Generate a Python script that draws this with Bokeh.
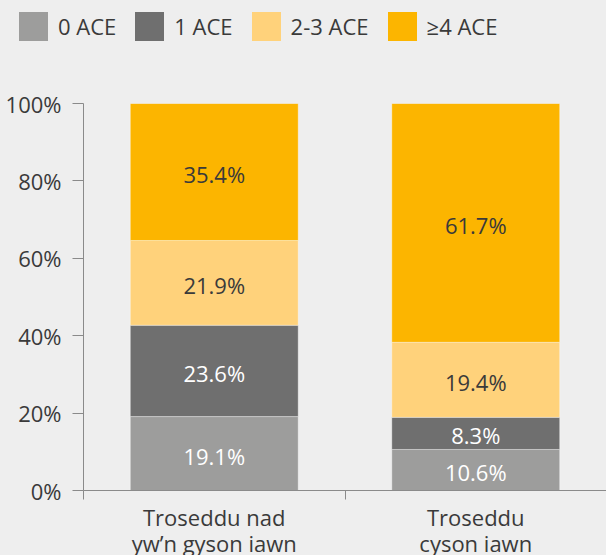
from bokeh.plotting import figure
from bokeh.layouts import column
from bokeh.models import (ColumnDataSource, Range1d, FixedTicker, LinearAxis, Div)
from bokeh.core.properties import value
from bokeh.embed import file_html
from bokeh.resources import INLINE

# ---- data ----
categories = ["Troseddu nad\nyw\u2019n gyson iawn", "Troseddu\ncyson iawn"]
series_names = ["0 ACE", "1 ACE", "2-3 ACE", "\u22654 ACE"]
ace_0 = [19.1, 10.6]
ace_1 = [23.6, 8.3]
ace_2_3 = [21.9, 19.4]
ace_4plus = [35.4, 61.7]
y_ticks = [0, 20, 40, 60, 80, 100]

colors = ["#9d9d9c", "#6f6f6f", "#ffd27b", "#fcb500"]
label_colors = ["#ffffff", "#ffffff", "#3a3a3a", "#3a3a3a"]
FONT = "Open Sans"
BG = "#eeeeee"
axis_color = "#8a8a8a"
text_color = "#3a3a3a"

xs = [i + 0.5 for i in range(len(categories))]
keys = ["s0", "s1", "s2", "s3"]
series = [ace_0, ace_1, ace_2_3, ace_4plus]
src = ColumnDataSource(dict(x=xs, **{k: v for k, v in zip(keys, series)}))

# ---- legend strip (top) ----
LEG_H = 80
items_html = "".join(
    f'<span style="display:inline-block;width:29px;height:29px;background:{c};margin-right:10px;flex:none"></span>'
    f'<span style="margin-right:19px;white-space:nowrap">{n}</span>'
    for c, n in zip(colors, series_names))
legend_div = Div(
    text=(f'<div style="display:flex;align-items:center;height:29px;margin-top:12px;padding-left:19px;'
          f"font-family:'{FONT}';font-size:22px;color:{text_color};line-height:29px\">{items_html}</div>"),
    width=606, height=LEG_H, margin=0,
    styles={"background-color": BG})

# ---- main chart ----
p = figure(width=606, height=580 - LEG_H, output_backend="svg", toolbar_location=None,
           x_range=Range1d(0, len(categories)), y_range=Range1d(0, 100),
           min_border_left=83, min_border_right=0, min_border_top=103 - LEG_H, min_border_bottom=90,
           background_fill_color=BG, border_fill_color=BG, outline_line_color=None, margin=0)
p.xaxis.visible = False
p.yaxis.visible = False
p.xgrid.visible = False
p.ygrid.visible = False

p.vbar_stack(keys, x="x", width=0.642, source=src, color=colors,
             line_color="white", line_alpha=0.35, line_width=1)

# value labels
for si, (vals, lc) in enumerate(zip(series, label_colors)):
    bottoms = [sum(series[j][i] for j in range(si)) for i in range(len(xs))]
    ys = [b + v / 2 for b, v in zip(bottoms, vals)]
    txt = [f"{v:.1f}%" for v in vals]
    p.text(x=xs, y=ys, text=txt, text_align="center", text_baseline="middle",
           text_color=lc, text_font=value(FONT), text_font_size="22px", y_offset=2)

# y axis
yax = LinearAxis(ticker=FixedTicker(ticks=y_ticks),
                 major_label_overrides={t: f"{t}%" for t in y_ticks})
yax.bounds = (0, 100)
yax.axis_line_color = axis_color
yax.major_tick_line_color = axis_color
yax.major_tick_out = 11
yax.major_tick_in = 0
yax.minor_tick_line_color = None
yax.major_label_standoff = 11
yax.major_label_text_font = FONT
yax.major_label_text_font_size = "22px"
yax.major_label_text_color = text_color
p.add_layout(yax, "left")

# x axis: labels at category centres, ticks at category boundaries
xax = LinearAxis(ticker=FixedTicker(ticks=xs, minor_ticks=list(range(len(categories) + 1))),
                 major_label_overrides={x: c for x, c in zip(xs, categories)})
xax.axis_line_color = axis_color
xax.major_tick_line_color = None
xax.major_tick_out = 0
xax.major_tick_in = 0
xax.minor_tick_line_color = axis_color
xax.minor_tick_out = 9
xax.minor_tick_in = 0
xax.major_label_standoff = 2
xax.major_label_text_font = FONT
xax.major_label_text_font_size = "22px"
xax.major_label_text_color = text_color
xax.major_label_text_line_height = 0.88
p.add_layout(xax, "below")

layout = column(legend_div, p, spacing=0)
layout.styles = {"background-color": BG}
open("out.html", "w").write(file_html(layout, INLINE))
